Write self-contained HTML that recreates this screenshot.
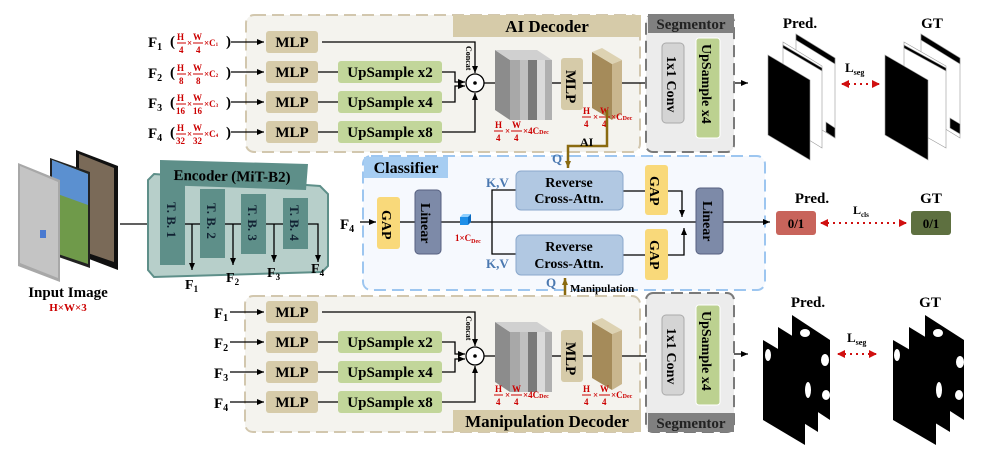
<!DOCTYPE html>
<html><head><meta charset="utf-8"><style>
html,body{margin:0;padding:0;background:#fff}
svg{display:block;font-family:"Liberation Serif",serif;font-weight:bold}
.r{fill:#c00;font-size:9px}
</style></head><body>
<svg width="996" height="465" viewBox="0 0 996 465" xmlns="http://www.w3.org/2000/svg">
<defs>
<marker id="a" markerWidth="8" markerHeight="8" refX="7" refY="4" orient="auto" markerUnits="userSpaceOnUse"><path d="M0,1 L7,4 L0,7 z" fill="#000"/></marker>
<marker id="ab" markerWidth="8" markerHeight="8" refX="7" refY="4" orient="auto" markerUnits="userSpaceOnUse"><path d="M0,1 L7,4 L0,7 z" fill="#8a6a10"/></marker>
<marker id="ar" markerWidth="8" markerHeight="8" refX="7" refY="4" orient="auto-start-reverse" markerUnits="userSpaceOnUse"><path d="M0,0 L8,4 L0,8 z" fill="#d01010"/></marker>
</defs>

<!-- ===== TOP DECODER ===== -->
<rect x="246" y="15" width="394" height="137" rx="8" fill="#f4f3ee" stroke="#d2c7ae" stroke-width="2" stroke-dasharray="12,6"/>
<rect x="453" y="15" width="188" height="22" fill="#d6cba9"/>
<text x="547" y="32" font-size="17" text-anchor="middle">AI Decoder</text>

<g font-size="15">
<text x="148" y="47">F<tspan font-size="10" dy="3">1</tspan></text>
<text x="148" y="78">F<tspan font-size="10" dy="3">2</tspan></text>
<text x="148" y="108">F<tspan font-size="10" dy="3">3</tspan></text>
<text x="148" y="138">F<tspan font-size="10" dy="3">4</tspan></text>
</g>
<g class="r">
<text x="170" y="46" font-size="15" fill="#000">(</text><text x="177" y="40">H</text><text x="179" y="53">4</text><line x1="177" y1="43" x2="186" y2="43" stroke="#c00"/><text x="187" y="46">×</text><text x="193" y="40">W</text><text x="196" y="53">4</text><line x1="193" y1="43" x2="203" y2="43" stroke="#c00"/><text x="204" y="46">×C<tspan font-size="5">1</tspan></text><text x="226" y="46" font-size="15" fill="#000">)</text>
<text x="170" y="77" font-size="15" fill="#000">(</text><text x="177" y="71">H</text><text x="179" y="84">8</text><line x1="177" y1="74" x2="186" y2="74" stroke="#c00"/><text x="187" y="77">×</text><text x="193" y="71">W</text><text x="196" y="84">8</text><line x1="193" y1="74" x2="203" y2="74" stroke="#c00"/><text x="204" y="77">×C<tspan font-size="5">2</tspan></text><text x="226" y="77" font-size="15" fill="#000">)</text>
<text x="170" y="107" font-size="15" fill="#000">(</text><text x="177" y="101">H</text><text x="176" y="114">16</text><line x1="176" y1="104" x2="186" y2="104" stroke="#c00"/><text x="187" y="107">×</text><text x="193" y="101">W</text><text x="193" y="114">16</text><line x1="193" y1="104" x2="203" y2="104" stroke="#c00"/><text x="204" y="107">×C<tspan font-size="5">3</tspan></text><text x="226" y="107" font-size="15" fill="#000">)</text>
<text x="170" y="137" font-size="15" fill="#000">(</text><text x="177" y="131">H</text><text x="176" y="144">32</text><line x1="176" y1="134" x2="186" y2="134" stroke="#c00"/><text x="187" y="137">×</text><text x="193" y="131">W</text><text x="193" y="144">32</text><line x1="193" y1="134" x2="203" y2="134" stroke="#c00"/><text x="204" y="137">×C<tspan font-size="5">4</tspan></text><text x="226" y="137" font-size="15" fill="#000">)</text>
</g>
<g stroke="#000" stroke-width="1.3" fill="none">
<line x1="231" y1="42" x2="264" y2="42" marker-end="url(#a)"/>
<line x1="231" y1="72" x2="264" y2="72" marker-end="url(#a)"/>
<line x1="231" y1="102" x2="264" y2="102" marker-end="url(#a)"/>
<line x1="231" y1="132" x2="264" y2="132" marker-end="url(#a)"/>
<line x1="318" y1="72" x2="338" y2="72"/><line x1="318" y1="102" x2="338" y2="102"/><line x1="318" y1="132" x2="338" y2="132"/>
<polyline points="322,42 475,42 475,73" marker-end="url(#a)"/>
<polyline points="442,72 455,72 455,82 465,82" marker-end="url(#a)"/>
<polyline points="442,102 455,102 455,86 465,86" marker-end="url(#a)"/>
<polyline points="442,132 475,132 475,93" marker-end="url(#a)"/>
<line x1="484" y1="83" x2="510" y2="83"/>
<line x1="552" y1="83" x2="561" y2="83"/>
<line x1="583" y1="83" x2="608" y2="83" marker-end="url(#a)"/>
<line x1="622" y1="83" x2="662" y2="83"/>
<line x1="684" y1="83" x2="696" y2="83"/>
<line x1="720" y1="83" x2="748" y2="83" marker-end="url(#a)"/>
</g>
<g font-size="15" text-anchor="middle">
<rect x="266" y="31" width="52" height="22" rx="3" fill="#d6cba9"/><text x="292" y="47">MLP</text>
<rect x="266" y="61" width="52" height="22" rx="3" fill="#d6cba9"/><text x="292" y="77">MLP</text>
<rect x="266" y="91" width="52" height="22" rx="3" fill="#d6cba9"/><text x="292" y="107">MLP</text>
<rect x="266" y="121" width="52" height="22" rx="3" fill="#d6cba9"/><text x="292" y="137">MLP</text>
<rect x="338" y="61" width="104" height="22" rx="3" fill="#c2d69a"/><text x="390" y="77">UpSample x2</text>
<rect x="338" y="91" width="104" height="22" rx="3" fill="#c2d69a"/><text x="390" y="107">UpSample x4</text>
<rect x="338" y="121" width="104" height="22" rx="3" fill="#c2d69a"/><text x="390" y="137">UpSample x8</text>
</g>
<circle cx="475" cy="83" r="9" fill="#fff" stroke="#000" stroke-width="1.3"/><circle cx="475" cy="83" r="1.8" fill="#000"/>
<text transform="translate(466,46) rotate(90)" font-size="8">Concat</text>
<g>
<polygon points="495,50 510,60 510,120 495,110" fill="#8c8c8c"/>
<polygon points="495,50 537,50 552,60 510,60" fill="#d0d0d0"/>
<rect x="510" y="60" width="10" height="60" fill="#a8a8a8"/><rect x="520" y="60" width="8" height="60" fill="#c0c0c0"/><rect x="528" y="60" width="9" height="60" fill="#7a7a7a"/><rect x="537" y="60" width="8" height="60" fill="#dadada"/><rect x="545" y="60" width="7" height="60" fill="#b0b0b0"/>
</g>
<rect x="561" y="58" width="22" height="52" rx="3" fill="#d6cba9"/>
<text transform="translate(566,70) rotate(90)" font-size="15">MLP</text>
<g>
<polygon points="592,52 612,64 612,120 592,108" fill="#a58b5a"/>
<polygon points="612,64 622,60 622,114 612,120" fill="#c9b68e"/>
<polygon points="592,52 602,48 622,60 612,64" fill="#ddd2b2"/>
</g>
<g class="r" font-size="9">
<text x="495" y="128">H</text><line x1="494" y1="131" x2="503" y2="131" stroke="#c00"/><text x="496" y="141">4</text><text x="505" y="134">×</text>
<text x="512" y="128">W</text><line x1="511" y1="131" x2="522" y2="131" stroke="#c00"/><text x="514" y="141">4</text><text x="523" y="134">×4C<tspan font-size="6">Dec</tspan></text>
<text x="583" y="114">H</text><line x1="582" y1="117" x2="591" y2="117" stroke="#c00"/><text x="584" y="127">4</text><text x="593" y="120">×</text>
<text x="600" y="114">W</text><line x1="599" y1="117" x2="610" y2="117" stroke="#c00"/><text x="602" y="127">4</text><text x="611" y="120">×C<tspan font-size="6">Dec</tspan></text>
</g>
<rect x="646" y="15" width="88" height="137" rx="7" fill="#ececec" stroke="#7a7a7a" stroke-width="2" stroke-dasharray="12,6"/>
<rect x="648" y="14" width="86" height="19" fill="#808080"/>
<text x="691" y="29" font-size="15" text-anchor="middle" fill="#222">Segmentor</text>
<rect x="662" y="43" width="22" height="80" rx="4" fill="#d4d4d4" stroke="#aaa"/>
<text transform="translate(667,56) rotate(90)" font-size="14">1x1 Conv</text>
<rect x="696" y="38" width="24" height="100" rx="3" fill="#bcd190" stroke="#fff"/>
<text transform="translate(702,44) rotate(90)" font-size="14">UpSample x4</text>

<text x="800" y="28" font-size="15" text-anchor="middle">Pred.</text>
<text x="932" y="28" font-size="15" text-anchor="middle">GT</text>
<g stroke="#999" stroke-width="0.6">
<polygon points="796,34 835,58 835,138 796,114" fill="#fff"/><polygon points="796,34 835,58 835,64 796,40" fill="#000"/><polygon points="835,128 835,138 826,132 826,122" fill="#000"/>
<polygon points="783,42 822,66 822,148 783,124" fill="#fff"/><polygon points="783,45 822,68 822,71 783,48" fill="#000"/>
<polygon points="768,55 810,80 810,160 768,135" fill="#000"/>
<polygon points="921,34 960,58 960,138 921,114" fill="#fff"/><polygon points="921,34 960,58 960,64 921,40" fill="#000"/><polygon points="960,124 960,134 950,128 950,118" fill="#000"/>
<polygon points="904,42 946,66 946,148 904,124" fill="#fff"/><polygon points="904,45 946,68 946,71 904,48" fill="#000"/>
<polygon points="885,55 928,80 928,160 885,135" fill="#000"/>
</g>
<text x="845" y="72" font-size="13">L<tspan font-size="8" dy="3">seg</tspan></text>
<line x1="842" y1="84" x2="879" y2="84" stroke="#d01010" stroke-width="2" stroke-dasharray="2,4" marker-end="url(#ar)" marker-start="url(#ar)"/>

<!-- ===== INPUT IMAGE ===== -->
<polygon points="76,150 118,166 118,270 76,254" fill="#111"/>
<polygon points="79,154 114,168 114,262 79,250" fill="#7a6a58"/>
<polygon points="50,158 90,172 90,268 50,254" fill="#222"/>
<polygon points="52,160 88,174 88,264 52,252" fill="#6f9a4a"/>
<polygon points="52,160 88,174 88,205 52,192" fill="#5b90d0"/>
<polygon points="18,163 60,180 60,282 18,266" fill="#a8a8a8"/>
<polygon points="20,166 58,182 58,278 20,263" fill="#c4c4c4"/>
<rect x="40" y="230" width="6" height="8" fill="#4a7ad0"/>
<text x="68" y="297" font-size="15" text-anchor="middle">Input Image</text>
<text x="68" y="311" font-size="11" text-anchor="middle" fill="#c00">H×W×3</text>
<line x1="120" y1="224" x2="160" y2="224" stroke="#000" stroke-width="1.3"/>

<!-- ===== ENCODER ===== -->
<polygon points="154,174 320,186 328,194 328,266 322,272 154,277 148,270 148,180" fill="#b7cfca" stroke="#5e8f89" stroke-width="2"/>
<polygon points="160,160 308,164 306,190 160,185" fill="#5e8f89"/>
<text x="232" y="181" font-size="15" text-anchor="middle" transform="rotate(1,232,181)">Encoder (MiT-B2)</text>
<g fill="#5e8f89">
<rect x="160" y="183" width="25" height="82"/>
<rect x="200" y="189" width="25" height="69"/>
<rect x="241" y="194" width="25" height="60"/>
<rect x="283" y="198" width="25" height="51"/>
</g>
<g font-size="13" fill="#123">
<text transform="translate(167,202) rotate(90)">T. B. 1</text>
<text transform="translate(207,203) rotate(90)">T. B. 2</text>
<text transform="translate(248,205) rotate(90)">T. B. 3</text>
<text transform="translate(290,205) rotate(90)">T. B. 4</text>
</g>
<g stroke="#000" stroke-width="1.3" fill="none">
<line x1="185" y1="224" x2="200" y2="224"/><line x1="225" y1="224" x2="241" y2="224"/><line x1="266" y1="224" x2="283" y2="224"/>
<polyline points="308,224 318,224 318,262" marker-end="url(#a)"/>
<line x1="192" y1="224" x2="192" y2="270" marker-end="url(#a)"/>
<line x1="233" y1="224" x2="233" y2="265" marker-end="url(#a)"/>
<line x1="274" y1="224" x2="274" y2="262" marker-end="url(#a)"/>
</g>
<g font-size="14">
<text x="185" y="289">F<tspan font-size="9" dy="3">1</tspan></text>
<text x="226" y="282">F<tspan font-size="9" dy="3">2</tspan></text>
<text x="267" y="277">F<tspan font-size="9" dy="3">3</tspan></text>
<text x="311" y="273">F<tspan font-size="9" dy="3">4</tspan></text>
</g>

<!-- ===== CLASSIFIER ===== -->
<rect x="363" y="156" width="402" height="134" rx="8" fill="#f6f9fe" stroke="#9dc6f0" stroke-width="2" stroke-dasharray="12,6"/>
<rect x="364" y="157" width="84" height="21" fill="#a6cdf2"/>
<text x="406" y="173" font-size="16" text-anchor="middle">Classifier</text>
<text x="340" y="229" font-size="15">F<tspan font-size="10" dy="3">4</tspan></text>
<g stroke="#000" stroke-width="1.3" fill="none">
<line x1="360" y1="222" x2="376" y2="222" marker-end="url(#a)"/>
<line x1="400" y1="222" x2="415" y2="222"/>
<line x1="441" y1="222" x2="770" y2="222" marker-end="url(#a)"/>
<polyline points="516,190 492,190 492,254 516,254"/>
<line x1="623" y1="191" x2="645" y2="191"/><line x1="623" y1="255" x2="645" y2="255"/>
<polyline points="668,191 682,191 682,217" marker-end="url(#a)"/>
<polyline points="668,255 684,255 684,228" marker-end="url(#a)"/>
</g>
<rect x="377" y="197" width="23" height="52" rx="3" fill="#f9d97a"/>
<text transform="translate(382,210) rotate(90)" font-size="14">GAP</text>
<rect x="415" y="190" width="26" height="64" rx="4" fill="#7d8aa8" stroke="#566080"/>
<text transform="translate(421,203) rotate(90)" font-size="14">Linear</text>
<polygon points="460,217 468,217 471,214 463,214" fill="#8fd0ff"/><rect x="460" y="217" width="8" height="8" fill="#1e8fe8"/><polygon points="468,217 471,214 471,222 468,225" fill="#0a6ac0"/>
<text x="455" y="241" font-size="9" fill="#c00">1×C<tspan font-size="6" dy="2">Dec</tspan></text>
<rect x="516" y="171" width="107" height="39" rx="5" fill="#b1c8e2" stroke="#8aa8cc"/>
<text x="569" y="187" font-size="14" text-anchor="middle">Reverse</text><text x="569" y="203" font-size="14" text-anchor="middle">Cross-Attn.</text>
<rect x="516" y="235" width="107" height="40" rx="5" fill="#b1c8e2" stroke="#8aa8cc"/>
<text x="569" y="251" font-size="14" text-anchor="middle">Reverse</text><text x="569" y="268" font-size="14" text-anchor="middle">Cross-Attn.</text>
<rect x="645" y="165" width="23" height="50" rx="3" fill="#f9d97a"/>
<text transform="translate(650,176) rotate(90)" font-size="14">GAP</text>
<rect x="645" y="229" width="23" height="51" rx="3" fill="#f9d97a"/>
<text transform="translate(650,240) rotate(90)" font-size="14">GAP</text>
<rect x="696" y="188" width="27" height="66" rx="4" fill="#7d8aa8" stroke="#566080"/>
<text transform="translate(703,201) rotate(90)" font-size="14">Linear</text>
<g fill="#4a78b0" font-size="13">
<text x="486" y="187">K,V</text><text x="486" y="268">K,V</text>
<text x="552" y="163">Q</text><text x="546" y="287">Q</text>
</g>
<g stroke="#8a6a10" stroke-width="2.5" fill="none">
<polyline points="607,110 607,146 568,146 568,168" marker-end="url(#ab)"/>
<polyline points="607,325 607,302 565,302 565,278" marker-end="url(#ab)"/>
</g>
<text x="580" y="146" font-size="12">AI</text>
<text x="570" y="292" font-size="11">Manipulation</text>
<text x="812" y="203" font-size="15" text-anchor="middle">Pred.</text>
<text x="931" y="203" font-size="15" text-anchor="middle">GT</text>
<rect x="776" y="211" width="40" height="24" rx="3" fill="#c8645b"/><text x="796" y="228" font-size="13" text-anchor="middle">0/1</text>
<rect x="911" y="211" width="40" height="24" rx="3" fill="#5e7040"/><text x="931" y="228" font-size="13" text-anchor="middle">0/1</text>
<text x="853" y="214" font-size="12">L<tspan font-size="7" dy="3">cls</tspan></text>
<line x1="821" y1="223" x2="906" y2="223" stroke="#d01010" stroke-width="2" stroke-dasharray="2,4" marker-end="url(#ar)" marker-start="url(#ar)"/>

<!-- ===== BOTTOM DECODER ===== -->
<rect x="245" y="296" width="395" height="136" rx="8" fill="#f4f3ee" stroke="#d2c7ae" stroke-width="2" stroke-dasharray="12,6"/>
<rect x="453" y="410" width="188" height="22" fill="#d6cba9"/>
<text x="547" y="427" font-size="17" text-anchor="middle">Manipulation Decoder</text>
<g font-size="15">
<text x="214" y="318">F<tspan font-size="10" dy="3">1</tspan></text>
<text x="214" y="348">F<tspan font-size="10" dy="3">2</tspan></text>
<text x="214" y="378">F<tspan font-size="10" dy="3">3</tspan></text>
<text x="214" y="408">F<tspan font-size="10" dy="3">4</tspan></text>
</g>
<g stroke="#000" stroke-width="1.3" fill="none">
<line x1="230" y1="312" x2="264" y2="312" marker-end="url(#a)"/>
<line x1="230" y1="342" x2="264" y2="342" marker-end="url(#a)"/>
<line x1="230" y1="372" x2="264" y2="372" marker-end="url(#a)"/>
<line x1="230" y1="402" x2="264" y2="402" marker-end="url(#a)"/>
<line x1="318" y1="342" x2="338" y2="342"/><line x1="318" y1="372" x2="338" y2="372"/><line x1="318" y1="402" x2="338" y2="402"/>
<polyline points="322,312 475,312 475,346" marker-end="url(#a)"/>
<polyline points="442,342 455,342 455,354 465,354" marker-end="url(#a)"/>
<polyline points="442,372 455,372 455,359 465,359" marker-end="url(#a)"/>
<polyline points="442,402 475,402 475,366" marker-end="url(#a)"/>
<line x1="484" y1="356" x2="510" y2="356"/>
<line x1="552" y1="356" x2="561" y2="356"/>
<line x1="583" y1="356" x2="608" y2="356" marker-end="url(#a)"/>
<line x1="622" y1="356" x2="662" y2="356"/>
<line x1="684" y1="354" x2="696" y2="354"/>
<line x1="720" y1="354" x2="748" y2="354" marker-end="url(#a)"/>
</g>
<g font-size="15" text-anchor="middle">
<rect x="266" y="301" width="52" height="22" rx="3" fill="#d6cba9"/><text x="292" y="317">MLP</text>
<rect x="266" y="331" width="52" height="22" rx="3" fill="#d6cba9"/><text x="292" y="347">MLP</text>
<rect x="266" y="361" width="52" height="22" rx="3" fill="#d6cba9"/><text x="292" y="377">MLP</text>
<rect x="266" y="391" width="52" height="22" rx="3" fill="#d6cba9"/><text x="292" y="407">MLP</text>
<rect x="338" y="331" width="104" height="22" rx="3" fill="#c2d69a"/><text x="390" y="347">UpSample x2</text>
<rect x="338" y="361" width="104" height="22" rx="3" fill="#c2d69a"/><text x="390" y="377">UpSample x4</text>
<rect x="338" y="391" width="104" height="22" rx="3" fill="#c2d69a"/><text x="390" y="407">UpSample x8</text>
</g>
<circle cx="475" cy="356" r="9" fill="#fff" stroke="#000" stroke-width="1.3"/><circle cx="475" cy="356" r="1.8" fill="#000"/>
<text transform="translate(466,316) rotate(90)" font-size="8">Concat</text>
<g>
<polygon points="495,322 510,332 510,392 495,382" fill="#8c8c8c"/>
<polygon points="495,322 537,322 552,332 510,332" fill="#d0d0d0"/>
<rect x="510" y="332" width="10" height="60" fill="#a8a8a8"/><rect x="520" y="332" width="8" height="60" fill="#c0c0c0"/><rect x="528" y="332" width="9" height="60" fill="#7a7a7a"/><rect x="537" y="332" width="8" height="60" fill="#dadada"/><rect x="545" y="332" width="7" height="60" fill="#b0b0b0"/>
</g>
<rect x="561" y="330" width="22" height="52" rx="3" fill="#d6cba9"/>
<text transform="translate(566,342) rotate(90)" font-size="15">MLP</text>
<g>
<polygon points="592,322 612,334 612,390 592,378" fill="#a58b5a"/>
<polygon points="612,334 622,330 622,384 612,390" fill="#c9b68e"/>
<polygon points="592,322 602,318 622,330 612,334" fill="#ddd2b2"/>
</g>
<g class="r" font-size="9">
<text x="495" y="392">H</text><line x1="494" y1="395" x2="503" y2="395" stroke="#c00"/><text x="496" y="405">4</text><text x="505" y="398">×</text>
<text x="512" y="392">W</text><line x1="511" y1="395" x2="522" y2="395" stroke="#c00"/><text x="514" y="405">4</text><text x="523" y="398">×4C<tspan font-size="6">Dec</tspan></text>
<text x="583" y="392">H</text><line x1="582" y1="395" x2="591" y2="395" stroke="#c00"/><text x="584" y="405">4</text><text x="593" y="398">×</text>
<text x="600" y="392">W</text><line x1="599" y1="395" x2="610" y2="395" stroke="#c00"/><text x="602" y="405">4</text><text x="611" y="398">×C<tspan font-size="6">Dec</tspan></text>
</g>
<rect x="646" y="293" width="88" height="139" rx="7" fill="#ececec" stroke="#7a7a7a" stroke-width="2" stroke-dasharray="12,6"/>
<rect x="648" y="413" width="86" height="19" fill="#808080"/>
<text x="691" y="428" font-size="15" text-anchor="middle" fill="#222">Segmentor</text>
<rect x="662" y="315" width="22" height="80" rx="4" fill="#d4d4d4" stroke="#aaa"/>
<text transform="translate(667,328) rotate(90)" font-size="14">1x1 Conv</text>
<rect x="696" y="305" width="24" height="100" rx="3" fill="#bcd190" stroke="#fff"/>
<text transform="translate(702,311) rotate(90)" font-size="14">UpSample x4</text>
<text x="808" y="307" font-size="15" text-anchor="middle">Pred.</text>
<text x="930" y="307" font-size="15" text-anchor="middle">GT</text>
<g fill="#000">
<polygon points="792,315 830,340 830,420 792,395"/>
<polygon points="778,327 818,352 818,432 778,407"/>
<polygon points="763,340 805,365 805,445 763,420"/>
<polygon points="925,315 964,340 964,420 925,395"/>
<polygon points="909,327 950,352 950,432 909,407"/>
<polygon points="893,340 936,365 936,445 893,420"/>
</g>
<g fill="#fff">
<ellipse cx="805" cy="333" rx="5" ry="4"/><ellipse cx="825" cy="360" rx="4" ry="6"/><ellipse cx="826" cy="395" rx="4" ry="5"/>
<ellipse cx="768" cy="355" rx="3" ry="6"/><ellipse cx="808" cy="390" rx="3" ry="8"/>
<ellipse cx="938" cy="333" rx="5" ry="4"/><ellipse cx="960" cy="362" rx="4" ry="6"/><ellipse cx="959" cy="395" rx="4" ry="5"/>
<ellipse cx="897" cy="355" rx="3" ry="6"/><ellipse cx="939" cy="390" rx="3" ry="8"/>
</g>
<text x="847" y="342" font-size="13">L<tspan font-size="8" dy="3">seg</tspan></text>
<line x1="838" y1="354" x2="876" y2="354" stroke="#d01010" stroke-width="2" stroke-dasharray="2,4" marker-end="url(#ar)" marker-start="url(#ar)"/>
</svg>
</body></html>
